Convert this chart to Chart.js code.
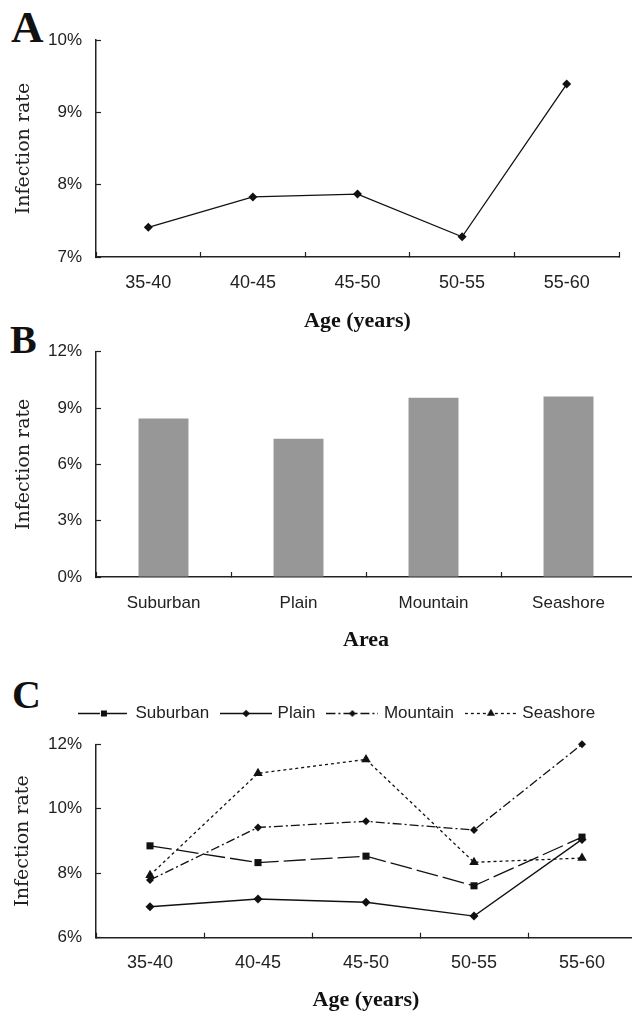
<!DOCTYPE html>
<html><head><meta charset="utf-8">
<script src="https://cdn.jsdelivr.net/npm/chart.js@4/dist/chart.umd.min.js"></script>
<style>
html,body{margin:0;padding:0;background:#fff;width:632px;height:1014px;overflow:hidden;position:relative}
canvas{position:absolute;left:0}
.lbl{position:absolute;font-family:"Liberation Serif","Times New Roman",serif;font-weight:bold;color:#111;line-height:1;margin:0}
</style></head><body>
<div class="lbl" style="left:11px;top:5px;font-size:45px">A</div>
<div class="lbl" style="left:10px;top:320px;font-size:40px">B</div>
<div class="lbl" style="left:12px;top:675px;font-size:40px">C</div>
<canvas id="cA" width="632" height="340" style="top:0"></canvas>
<canvas id="cB" width="640" height="360" style="top:300px"></canvas>
<canvas id="cC" width="672" height="354" style="top:660px"></canvas>
<script>
// ---------- data ----------
const ageGroups = ['35-40', '40-45', '45-50', '50-55', '55-60'];
const ageRate = [7.41, 7.83, 7.87, 7.28, 9.39];

const areas = ['Suburban', 'Plain', 'Mountain', 'Seashore'];
const areaRate = [8.44, 7.36, 9.55, 9.62];

const seriesNames = ['Suburban', 'Plain', 'Mountain', 'Seashore'];
const suburbanByAge = [8.85, 8.33, 8.53, 7.61, 9.12];
const plainByAge = [6.96, 7.20, 7.10, 6.67, 9.05];
const mountainByAge = [7.79, 9.42, 9.61, 9.34, 12.0];
const seashoreByAge = [7.94, 11.10, 11.53, 8.34, 8.47];

const yTicksA = [7, 8, 9, 10];
const yTicksB = [0, 3, 6, 9, 12];
const yTicksC = [6, 8, 10, 12];

const yTitle = 'Infection rate';
const xTitleAge = 'Age (years)';
const xTitleArea = 'Area';

// ---------- styles ----------
const SANS = '"Liberation Sans", Arial, sans-serif';
const SERIF = '"DejaVu Serif", serif';
const BSERIF = '"Liberation Serif", "Times New Roman", serif';
const INK = '#111';
const TXT = '#222';

function yAxis(ticks, width, titlePad) {
  return {
    min: ticks[0], max: ticks[ticks.length - 1],
    afterFit: s => { s.width = width; },
    afterBuildTicks: s => { s.ticks = ticks.map(v => ({value: v})); },
    ticks: {font: {family: SANS, size: 17}, color: TXT, padding: 19, callback: v => v + '%'},
    grid: {drawOnChartArea: false, drawTicks: true, tickLength: -5, tickColor: '#222', tickWidth: 1.2},
    border: {color: '#222', width: 1.5},
    title: {display: true, text: yTitle, font: {family: SERIF, size: 19}, color: TXT, padding: {top: titlePad, bottom: 0}}
  };
}
function xAxis(title, height, tickPad, titlePad, fontSize) {
  return {
    offset: true,
    afterFit: s => { s.height = height; },
    ticks: {font: {family: SANS, size: fontSize}, color: TXT, padding: tickPad, maxRotation: 0, autoSkip: false},
    grid: {offset: true, drawOnChartArea: false, drawTicks: true, tickLength: -5, tickColor: '#222', tickWidth: 1.2},
    border: {color: '#222', width: 1.5},
    title: {display: true, text: title, font: {family: BSERIF, size: 22, weight: 'bold'}, color: INK, padding: {top: 0, bottom: titlePad}}
  };
}
const noPlugins = {legend: {display: false}, tooltip: {enabled: false}};

// ---------- A ----------
new Chart(document.getElementById('cA'), {
  type: 'line',
  data: {labels: ageGroups, datasets: [{
    data: ageRate, borderColor: INK, borderWidth: 1.3, tension: 0, clip: false,
    pointStyle: 'rectRot', pointRadius: 4.5, pointBackgroundColor: INK, pointBorderWidth: 0
  }]},
  options: {
    responsive: false, animation: false, events: [],
    layout: {padding: {top: 40, left: 0, right: 13, bottom: 0}},
    plugins: noPlugins,
    scales: {x: xAxis(xTitleAge, 83, 20, 5.8, 18), y: yAxis(yTicksA, 96, 12.6)}
  }
});

// ---------- B ----------
new Chart(document.getElementById('cB'), {
  type: 'bar',
  data: {labels: areas, datasets: [{
    data: areaRate, backgroundColor: '#979797', borderWidth: 0,
    categoryPercentage: 1, barPercentage: 0.37
  }]},
  options: {
    responsive: false, animation: false, events: [],
    layout: {padding: {top: 51.7, left: 0, right: 4, bottom: 0}},
    plugins: noPlugins,
    scales: {x: xAxis(xTitleArea, 83, 20.8, 6.8, 17), y: yAxis(yTicksB, 96, 12.6)}
  }
});

// ---------- C ----------
const seriesValues = [suburbanByAge, plainByAge, mountainByAge, seashoreByAge];
const seriesStyle = [
  {dash: [22, 5], point: 'rect', r: 5},
  {dash: [], point: 'rectRot', r: 4.5},
  {dash: [9, 3, 2, 3], point: 'rectRot', r: 4},
  {dash: [3, 3], point: 'triangle', r: 5.5}
];
function legendSample(st) {
  const c = document.createElement('canvas');
  c.width = 52; c.height = 14;
  const ctx = c.getContext('2d');
  ctx.strokeStyle = INK; ctx.fillStyle = INK; ctx.lineWidth = 1.3;
  ctx.setLineDash(st.dash);
  ctx.beginPath(); ctx.moveTo(0, 7.5); ctx.lineTo(52, 7.5); ctx.stroke();
  ctx.setLineDash([]);
  Chart.helpers.drawPoint(ctx, {pointStyle: st.point, radius: st.r * 0.85, borderWidth: 0, rotation: 0}, 26, 7.5);
  return c;
}
new Chart(document.getElementById('cC'), {
  type: 'line',
  data: {labels: ageGroups, datasets: seriesNames.map((name, i) => ({
    label: name, data: seriesValues[i],
    borderColor: INK, borderWidth: 1.3, borderDash: seriesStyle[i].dash, tension: 0, clip: false,
    pointStyle: seriesStyle[i].point, pointRadius: seriesStyle[i].r,
    pointBackgroundColor: INK, pointBorderWidth: 0
  }))},
  options: {
    responsive: false, animation: false, events: [],
    layout: {padding: {top: 30.5, left: 40, right: 36, bottom: 0}},
    plugins: {
      tooltip: {enabled: false},
      legend: {
        display: true, position: 'top', align: 'center',
        labels: {
          usePointStyle: true, pointStyleWidth: 46, padding: 14,
          font: {family: SANS, size: 17}, color: TXT,
          generateLabels: chart => chart.data.datasets.map((ds, i) => ({
            text: ds.label, pointStyle: legendSample(seriesStyle[i]),
            fillStyle: INK, strokeStyle: INK, lineWidth: 0, fontColor: TXT,
            hidden: false, datasetIndex: i
          }))
        }
      },
      subtitle: {display: true, text: '', weight: 500, padding: 0, font: {size: 10, lineHeight: 1.28}}
    },
    scales: {x: xAxis(xTitleAge, 76.3, 19.5, 0.8, 18), y: yAxis(yTicksC, 56, -28.4)}
  }
});
</script>
</body></html>
